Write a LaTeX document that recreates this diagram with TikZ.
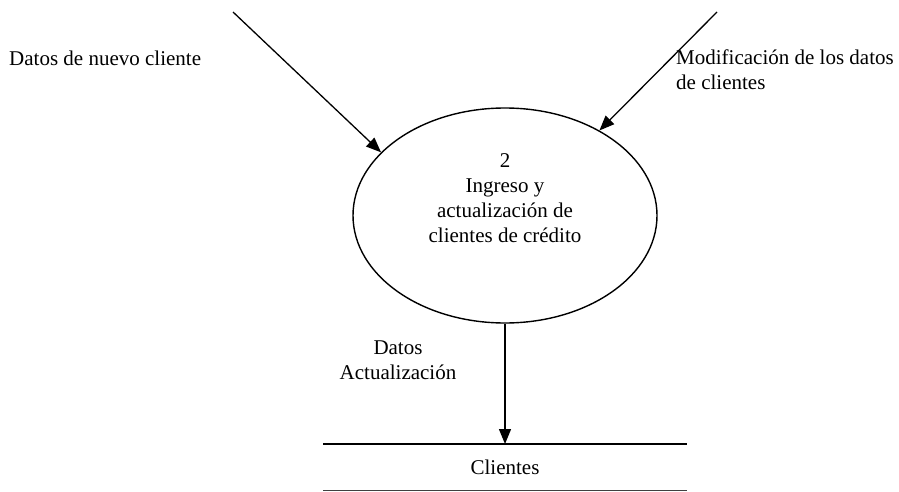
\documentclass[tikz,border=0pt]{standalone}
\usepackage{fontspec}
\setmainfont{Liberation Serif}
\usetikzlibrary{arrows.meta,shapes.geometric}
\tikzset{
  txt/.style={inner sep=0pt, font=\fontsize{21pt}{25pt}\selectfont},
  flow/.style={line width=1.3pt, -{Triangle[length=15pt,width=12pt]}},
  proc/.style={draw, ellipse, line width=1.4pt, inner sep=0pt, minimum width=304pt, minimum height=215pt},
  store/.style={line width=1.3pt}
}
\begin{document}
\begin{tikzpicture}[x=1pt,y=-1pt]
\useasboundingbox (0,0) rectangle (899,492);
% process
\node[proc] (p) at (505,215.5) {};
\node[txt, align=center, anchor=base] (pt) at (505,242) {2\\Ingreso y\\actualización de\\clientes de crédito};
% incoming flows
\coordinate (s1) at (233,12);
\coordinate (s2) at (717,12);
\draw[flow] (s1) -- (p.153.6);
\draw[flow] (s2) -- (p.42.9);
\node[txt, anchor=base west] (l1) at (9,66) {Datos de nuevo cliente};
\node[txt, align=left, anchor=base west] (l2) at (676,90) {Modificación de los datos\\de clientes};
% data store
\coordinate (st1) at (323,444);
\coordinate (st2) at (687,444);
\coordinate (sb1) at (323,490.5);
\coordinate (sb2) at (687,490.5);
\draw[store] (st1) -- (st2);
\draw[store, black!75, line width=1pt] (sb1) -- (sb2);
\node[txt, anchor=base] (st) at (505,474) {Clientes};
\coordinate (sa) at (p.south |- st1);
\draw[flow] (p.south) -- (sa);
\node[txt, align=center, anchor=base] (l3) at (398,379) {Datos\\Actualización};
\end{tikzpicture}
\end{document}
